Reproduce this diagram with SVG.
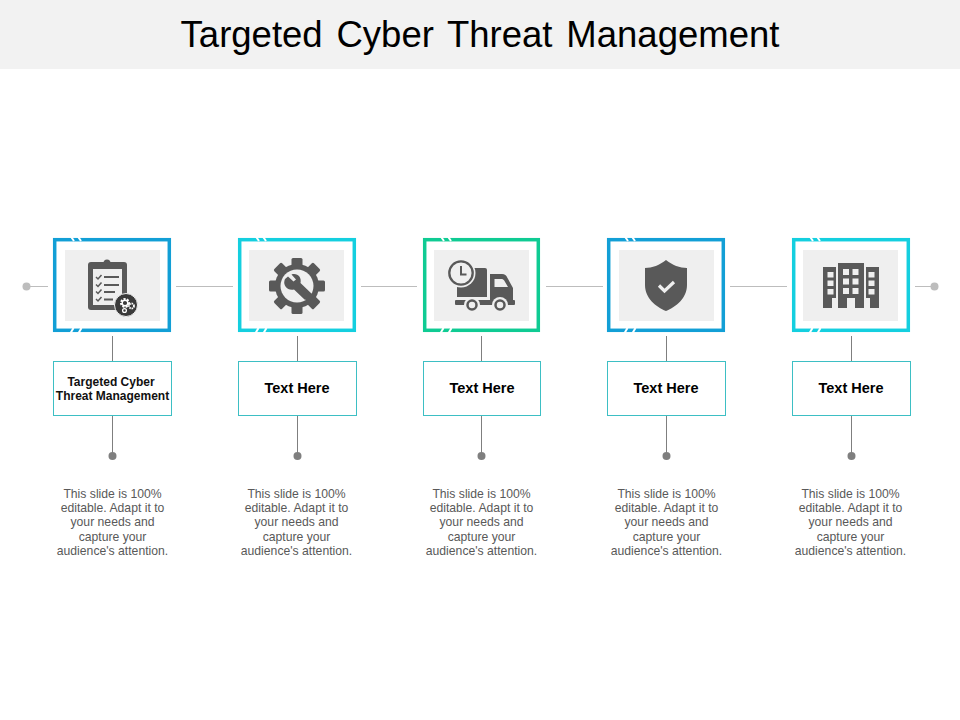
<svg xmlns="http://www.w3.org/2000/svg" width="960" height="720" viewBox="0 0 960 720">
<style>
text{font-family:"Liberation Sans",Arial,sans-serif;text-anchor:middle}
.title{font-size:36.500px;fill:#000;word-spacing:3.700px}
.head{font-size:14.500px;font-weight:bold;fill:#000}
.head2{font-size:12px;font-weight:bold;fill:#111}
.desc{font-size:12.200px;fill:#595959}
.pale{fill:#efefef}
.frame{fill:none;stroke-width:3.500}
.box{fill:#fff;stroke:#3dbfc4;stroke-width:1}
.cut{fill:none;stroke:#fff;stroke-width:2}
.l1{stroke:#bdbdbd;stroke-width:1;fill:none}
.l2{stroke:#7f7f7f;stroke-width:1;fill:none}
.ic{fill:#595959}
.dk{stroke:#595959;fill:none}
</style>
<defs>
<g id="cuts">
<path class="cut" d="M17.500 -2L21 3M24.500 -2L28 3M17 96L20.500 90M25 96L28.500 90"/>
</g>
</defs>
<rect width="960" height="69" fill="#f2f2f2"/>
<text class="title" x="480" y="47">Targeted Cyber Threat Management</text>
<g id="connectors">
<path class="l1" d="M27 286.500H48M176 286.500H233M361 286.500H417M546 286.500H603M730 286.500H787M915 286.500H934"/>
<circle cx="26.500" cy="286.500" r="4" fill="#bdbdbd"/>
<circle cx="934.500" cy="286.500" r="4" fill="#bdbdbd"/>
<path class="l2" d="M112.500 336V361M112.500 415V456M297.500 336V361M297.500 415V456M481.500 336V361M481.500 415V456M666.500 336V361M666.500 415V456M851.500 336V361M851.500 415V456"/>
<g fill="#7f7f7f">
<circle cx="112.500" cy="456" r="4"/><circle cx="297.500" cy="456" r="4"/><circle cx="481.500" cy="456" r="4"/><circle cx="666.500" cy="456" r="4"/><circle cx="851.500" cy="456" r="4"/>
</g>
</g>
<g id="node1">
<rect class="frame" x="54.700" y="239.700" width="114.600" height="90.600" stroke="#129fd6"/>
<use href="#cuts" x="53" y="238"/>
<rect class="pale" x="65" y="250" width="95" height="71"/>
<rect class="ic" x="88" y="262" width="39" height="48" rx="3"/>
<rect class="pale" x="93" y="269" width="29" height="36"/>
<path class="ic" d="M98 268V263H103.500A3.500 3.500 0 0 1 110.500 263H116V268Z"/>
<path class="dk" stroke-width="1.500" d="M96 277L98 279L101.500 275M96 284.500L98 286.500L101.500 282.500M96 291.500L98 293.500L101.500 289.500M96 299L98 301L101.500 297"/>
<path class="dk" stroke-width="2.200" d="M104 277H119M104 285H119M104 292H115M104 299.500H113"/>
<circle cx="126" cy="305" r="11.500" fill="#3a3a3a" stroke="#efefef" stroke-width="1"/>
<circle cx="125" cy="303" r="3.800" fill="none" stroke="#fff" stroke-width="2.400" stroke-dasharray="2 1.200"/>
<circle cx="125" cy="303" r="2.800" fill="none" stroke="#fff" stroke-width="1.400"/>
<circle cx="131.500" cy="306" r="2.500" fill="none" stroke="#fff" stroke-width="1.800" stroke-dasharray="1.500 .8"/>
<circle cx="124.500" cy="310.500" r="1.900" fill="none" stroke="#fff" stroke-width="1.300"/>
<rect class="box" x="53.500" y="361.500" width="118" height="54"/>
<text class="head2" x="111" y="386">Targeted Cyber</text>
<text class="head2" x="112.500" y="400">Threat Management</text>
<text class="desc"><tspan x="112.500" y="498">This slide is 100%</tspan><tspan x="112.500" y="512">editable. Adapt it to</tspan><tspan x="112.500" y="526">your needs and</tspan><tspan x="112.500" y="541">capture your</tspan><tspan x="112.500" y="555">audience's attention.</tspan></text>
</g>
<g id="node2">
<rect class="frame" x="239.700" y="239.700" width="114.600" height="90.600" stroke="#14cfdf"/>
<use href="#cuts" x="238" y="238"/>
<rect class="pale" x="249" y="250" width="95" height="71"/>
<circle class="ic" cx="297" cy="286" r="22"/>
<g class="ic">
<rect x="291.500" y="258" width="11" height="9" rx="1.500"/>
<rect x="291.500" y="305" width="11" height="9" rx="1.500"/>
<rect x="269" y="280.500" width="9" height="11" rx="1.500"/>
<rect x="316" y="280.500" width="9" height="11" rx="1.500"/>
<rect x="291.500" y="258" width="11" height="9" rx="1.500" transform="rotate(45 297 286)"/>
<rect x="291.500" y="258" width="11" height="9" rx="1.500" transform="rotate(135 297 286)"/>
<rect x="291.500" y="258" width="11" height="9" rx="1.500" transform="rotate(225 297 286)"/>
<rect x="291.500" y="258" width="11" height="9" rx="1.500" transform="rotate(315 297 286)"/>
</g>
<circle class="pale" cx="297" cy="286" r="16.500"/>
<path class="ic" d="M288 276.500L293.500 281.500L296 279.500L291.500 274.500C297 272.500 302 277 300.500 283L313 295L310 301L304.500 299.500L294 289.500C287.500 291 283 285.500 284.500 280.500L285 279Z"/>
<rect class="box" x="238.500" y="361.500" width="118" height="54"/>
<text class="head" x="297" y="393">Text Here</text>
<text class="desc"><tspan x="296.500" y="498">This slide is 100%</tspan><tspan x="296.500" y="512">editable. Adapt it to</tspan><tspan x="296.500" y="526">your needs and</tspan><tspan x="296.500" y="541">capture your</tspan><tspan x="296.500" y="555">audience's attention.</tspan></text>
</g>
<g id="node3">
<rect class="frame" x="424.700" y="239.700" width="113.600" height="90.600" stroke="#0fcb93"/>
<use href="#cuts" x="423" y="238"/>
<rect class="pale" x="434" y="250" width="95" height="71"/>
<path class="ic" d="M457 268H485A2 2 0 0 1 487 270V297H457Z"/>
<path class="ic" d="M490 274H502C505 274 506 275 507.500 278L513 288V300H490Z"/>
<path class="pale" d="M494.500 279H502C503 279 504 280 504.500 281L508 287H494.500Z"/>
<rect class="ic" x="455" y="300" width="60" height="5" rx="1"/>
<circle class="pale" cx="472" cy="305" r="8"/>
<circle class="pale" cx="500" cy="305" r="8"/>
<circle cx="472" cy="305" r="4.500" fill="#efefef" stroke="#595959" stroke-width="2.500"/>
<circle cx="500" cy="305" r="4.500" fill="#efefef" stroke="#595959" stroke-width="2.500"/>
<circle cx="461" cy="273" r="14.500" fill="#efefef"/>
<circle cx="461" cy="273" r="11.700" fill="#efefef" stroke="#595959" stroke-width="2.300"/>
<path class="dk" stroke-width="2" d="M461 266V274.500H466.500"/>
<rect class="box" x="423.500" y="361.500" width="117" height="54"/>
<text class="head" x="482" y="393">Text Here</text>
<text class="desc"><tspan x="481.500" y="498">This slide is 100%</tspan><tspan x="481.500" y="512">editable. Adapt it to</tspan><tspan x="481.500" y="526">your needs and</tspan><tspan x="481.500" y="541">capture your</tspan><tspan x="481.500" y="555">audience's attention.</tspan></text>
</g>
<g id="node4">
<rect class="frame" x="608.700" y="239.700" width="114.600" height="90.600" stroke="#129fd6"/>
<use href="#cuts" x="607" y="238"/>
<rect class="pale" x="619" y="250" width="95" height="71"/>
<path class="ic" d="M666 260C672 265 680 268 687 268V285C687 298 676 307 666 311C656 307 645 298 645 285V268C652 268 660 265 666 260Z"/>
<path d="M659 285.500L664.500 291L674 282" fill="none" stroke="#efefef" stroke-width="3.200"/>
<rect class="box" x="607.500" y="361.500" width="118" height="54"/>
<text class="head" x="666" y="393">Text Here</text>
<text class="desc"><tspan x="666.500" y="498">This slide is 100%</tspan><tspan x="666.500" y="512">editable. Adapt it to</tspan><tspan x="666.500" y="526">your needs and</tspan><tspan x="666.500" y="541">capture your</tspan><tspan x="666.500" y="555">audience's attention.</tspan></text>
</g>
<g id="node5">
<rect class="frame" x="793.700" y="239.700" width="114.600" height="90.600" stroke="#14cfdf"/>
<use href="#cuts" x="792" y="238"/>
<rect class="pale" x="803" y="250" width="95" height="71"/>
<path class="ic" d="M823 267H836V298H823ZM866 267H879V308H870V298H866ZM838 263H864V308H855V298H847V308H838ZM823 298H832V308H823Z"/>
<g class="pale">
<rect x="827.500" y="272" width="6" height="5.500"/><rect x="827.500" y="280.500" width="6" height="5.500"/><rect x="827.500" y="289" width="6" height="5.500"/>
<rect x="868.500" y="272" width="6" height="5.500"/><rect x="868.500" y="280.500" width="6" height="5.500"/><rect x="868.500" y="289" width="6" height="5.500"/>
<rect x="843" y="269" width="6" height="6"/><rect x="852.500" y="269" width="6" height="6"/>
<rect x="843" y="278.500" width="6" height="6"/><rect x="852.500" y="278.500" width="6" height="6"/>
<rect x="843" y="288" width="6" height="6"/><rect x="852.500" y="288" width="6" height="6"/>
</g>
<rect class="box" x="792.500" y="361.500" width="118" height="54"/>
<text class="head" x="851" y="393">Text Here</text>
<text class="desc"><tspan x="850.500" y="498">This slide is 100%</tspan><tspan x="850.500" y="512">editable. Adapt it to</tspan><tspan x="850.500" y="526">your needs and</tspan><tspan x="850.500" y="541">capture your</tspan><tspan x="850.500" y="555">audience's attention.</tspan></text>
</g>
</svg>
